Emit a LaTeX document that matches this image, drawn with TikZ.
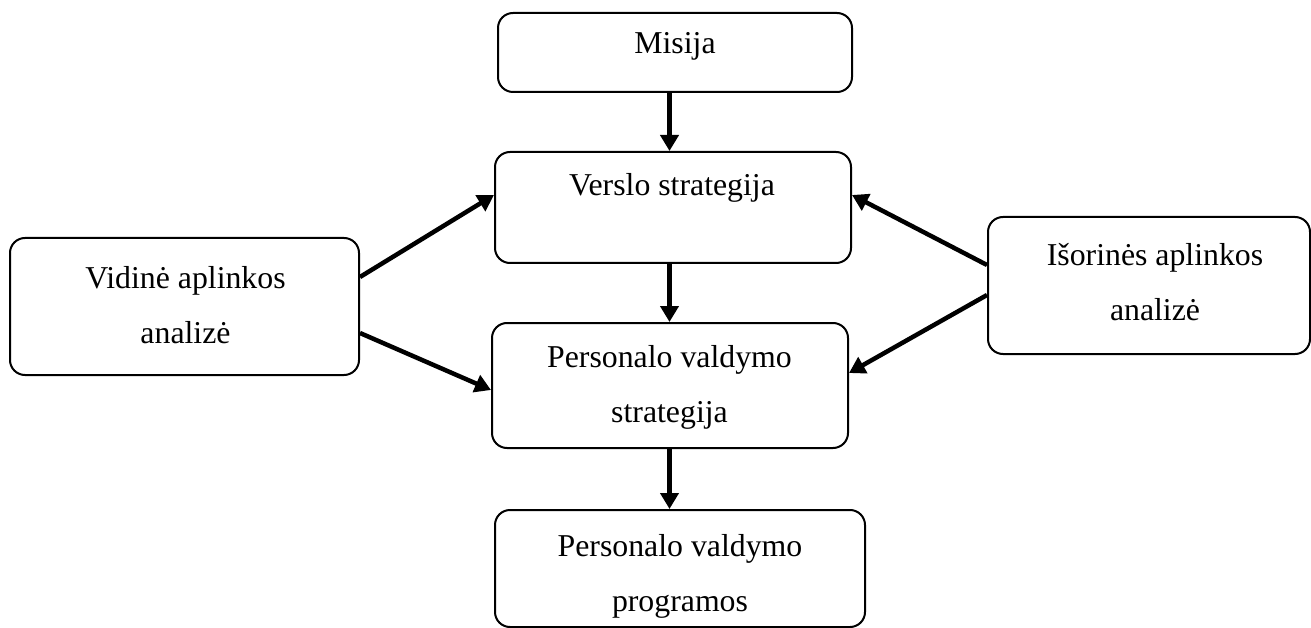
\documentclass[tikz,border=0pt]{standalone}
\usepackage{fontspec}
\setmainfont{Liberation Serif}
\usetikzlibrary{arrows.meta,calc}
\begin{document}
\begin{tikzpicture}[x=1pt,y=-1pt,
  box/.style={draw,line width=2pt,rounded corners=15pt,inner sep=0pt,anchor=center},
  lbl/.style={inner sep=0pt,anchor=center,align=center,font=\fontsize{31.8}{55}\selectfont},
  arr/.style={line width=4.5pt,-{Triangle[length=16pt,width=18pt]}}]
\useasboundingbox (0,0) rectangle (1311,628);
% boxes
\node[box,minimum width=354pt,minimum height=79pt] (mis) at (675,52.5) {};
\node[box,minimum width=356pt,minimum height=111pt] (ver) at (673,207.5) {};
\node[box,minimum width=356pt,minimum height=125pt] (pvs) at (670,385.5) {};
\node[box,minimum width=370pt,minimum height=117pt] (pvp) at (680,568.5) {};
\node[box,minimum width=349pt,minimum height=137pt] (vid) at (184.5,306.5) {};
\node[box,minimum width=322pt,minimum height=137pt] (isr) at (1149,285.5) {};
% texts
\node[lbl] (tmis) at (675,46) {Misija};
\node[lbl] (tver) at (672,188) {Verslo strategija};
\node[lbl] (tpvs) at (669.5,387) {Personalo valdymo\\strategija};
\node[lbl] (tpvp) at (680,576) {Personalo valdymo\\programos};
\node[lbl] (tvid) at (185.5,305) {Vidinė aplinkos\\analizė};
\node[lbl] (tisr) at (1155,282) {Išorinės aplinkos\\analizė};
% vertical arrows
\draw[arr] ([xshift=-5.5pt]mis.south) -- ([xshift=-5.5pt]mis.south |- ver.north);
\draw[arr] ([xshift=-3.5pt]ver.south) -- ([xshift=-3.5pt]ver.south |- pvs.north);
\draw[arr] ([xshift=-0.5pt]pvs.south) -- ([xshift=-0.5pt]pvs.south |- pvp.north);
% side arrows
\draw[arr] ([yshift=29.5pt]vid.east) -- ([yshift=12.5pt]ver.west);
\draw[arr] ([yshift=-26.5pt]vid.east) -- ([yshift=-4.5pt]pvs.west);
\draw[arr] ([yshift=20.5pt]isr.west) -- ([yshift=12.5pt]ver.east);
\draw[arr] ([yshift=-9.5pt]isr.west) -- ([yshift=12.5pt]pvs.east);
\end{tikzpicture}
\end{document}
